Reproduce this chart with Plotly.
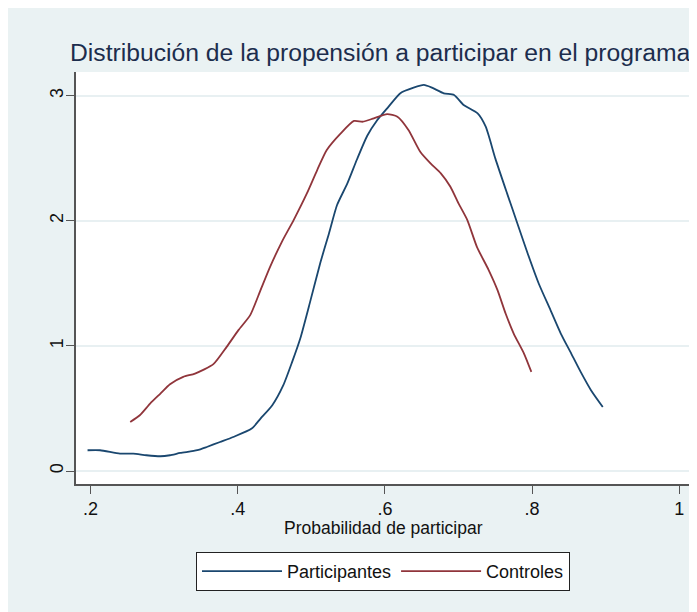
import plotly.graph_objects as go

# Participantes (kernel density)
part_x = [0.196, 0.213, 0.240, 0.258, 0.276, 0.295, 0.308, 0.322, 0.345, 0.358, 0.376, 0.394,
          0.419, 0.431, 0.447, 0.462, 0.474, 0.485, 0.499, 0.512, 0.524, 0.535, 0.549, 0.562,
          0.576, 0.589, 0.604, 0.621, 0.639, 0.653, 0.664, 0.680, 0.694, 0.707, 0.726, 0.737,
          0.750, 0.766, 0.780, 0.794, 0.809, 0.825, 0.839, 0.852, 0.866, 0.880, 0.896]
part_y = [0.166, 0.166, 0.139, 0.139, 0.126, 0.118, 0.126, 0.144, 0.166, 0.192, 0.232, 0.272,
          0.339, 0.419, 0.526, 0.686, 0.872, 1.059, 1.366, 1.659, 1.899, 2.126, 2.299, 2.490,
          2.680, 2.800, 2.905, 3.020, 3.064, 3.086, 3.064, 3.019, 3.006, 2.926, 2.859, 2.752,
          2.499, 2.219, 1.979, 1.739, 1.499, 1.286, 1.099, 0.952, 0.792, 0.646, 0.512]

# Controles
ctrl_x = [0.254, 0.267, 0.281, 0.295, 0.308, 0.326, 0.342, 0.367, 0.385, 0.401, 0.417, 0.431,
          0.444, 0.460, 0.476, 0.494, 0.508, 0.521, 0.540, 0.558, 0.570, 0.585, 0.603, 0.617,
          0.632, 0.648, 0.662, 0.676, 0.689, 0.700, 0.712, 0.725, 0.741, 0.753, 0.764, 0.775,
          0.789, 0.799]
ctrl_y = [0.392, 0.446, 0.539, 0.619, 0.694, 0.752, 0.779, 0.854, 0.992, 1.126, 1.246, 1.446,
          1.632, 1.832, 2.006, 2.219, 2.406, 2.566, 2.699, 2.798, 2.792, 2.819, 2.852, 2.832,
          2.726, 2.552, 2.459, 2.379, 2.272, 2.139, 2.006, 1.792, 1.606, 1.446, 1.259, 1.099,
          0.939, 0.792]

x_ticks = [0.2, 0.4, 0.6, 0.8, 1.0]
x_labels = [".2", ".4", ".6", ".8", "1"]
y_ticks = [0, 1, 2, 3]
y_labels = ["0", "1", "2", "3"]

BG = "#eaf2f3"
FONT = "Liberation Sans, Arial, sans-serif"

fig = go.Figure()
fig.add_trace(go.Scatter(x=part_x, y=part_y, mode="lines", name="Participantes",
                         line=dict(color="#1a476f", width=1.8, shape="spline", smoothing=0.6)))
fig.add_trace(go.Scatter(x=ctrl_x, y=ctrl_y, mode="lines", name="Controles",
                         line=dict(color="#90353b", width=1.8, shape="spline", smoothing=0.6)))

W, H = 697, 612
L, R, T, B = 68, 15, 64, 136
ph = H - T - B

fig.update_layout(
    width=W, height=H,
    margin=dict(l=L, r=R, t=T, b=B),
    paper_bgcolor=BG,
    plot_bgcolor="white",
    font=dict(family=FONT, size=18, color="#111111"),
    showlegend=True,
    title=dict(text="Distribución de la propensión a participar en el programa",
               x=62 / W, xref="container", xanchor="left",
               y=1 - 44 / H, yref="container", yanchor="middle",
               font=dict(family=FONT, size=24.7, color="#1c2d4d")),
    legend=dict(orientation="h", x=0.5, xanchor="center",
                y=(H - B - 544) / ph, yanchor="top",
                bgcolor="white", bordercolor="#222222", borderwidth=1,
                font=dict(family=FONT, size=18, color="#111111"),
                itemwidth=80),
    annotations=[dict(text="Probabilidad de participar", xref="paper", yref="paper",
                      x=0.5, xanchor="center", y=(H - B - 520) / ph, yanchor="middle",
                      showarrow=False, font=dict(family=FONT, size=17.5, color="#111111"))],
)

fig.update_xaxes(range=[0.2 - 14.5 / 736, 1 + 10.7 / 736],
                 tickvals=x_ticks, ticktext=x_labels,
                 showgrid=False, zeroline=False,
                 showline=True, linecolor="#555555", linewidth=1.5,
                 ticks="outside", ticklen=8, tickcolor="#555555", tickwidth=1.2,
                 tickfont=dict(family=FONT, size=18, color="#111111"))
fig.update_yaxes(range=[-13 / 125.1, 3 + 23.7 / 125.1],
                 tickvals=y_ticks, ticktext=y_labels,
                 showgrid=True, gridcolor="#e8f0f2", gridwidth=2, zeroline=False,
                 showline=True, linecolor="#555555", linewidth=1.5,
                 ticks="outside", ticklen=8, tickcolor="#555555", tickwidth=1.2,
                 tickangle=-90, ticklabelstandoff=-4,
                 tickfont=dict(family=FONT, size=18, color="#111111"))

fig.write_html("out.html")
